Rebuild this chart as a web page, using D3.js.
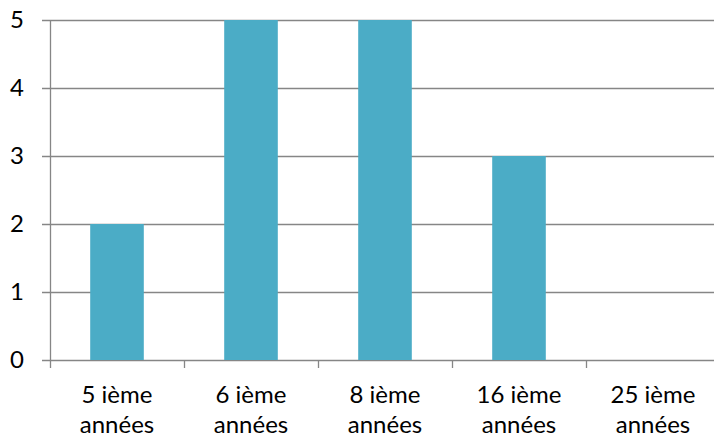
<!DOCTYPE html>
<html><head><meta charset="utf-8">
<script src="https://cdn.jsdelivr.net/npm/d3@7"></script>
<style>body{margin:0;background:#fff}svg{display:block}text{font-family:Lato,"Open Sans",sans-serif;fill:#000}</style>
</head><body><svg id="c" width="717" height="437"></svg>
<script>
const categories = ["5 ième années","6 ième années","8 ième années","16 ième années","25 ième années"];
const values = [2,5,5,3,0];
const yTicks = [0,1,2,3,4,5];

const svg = d3.select("#c");
const x0 = 50, x1 = 720, yTop = 20, yBot = 360;
const x = d3.scaleBand().domain(categories).range([x0, x1]).paddingInner(0.6).paddingOuter(0.3);
const xb = d3.scaleBand().domain(categories).range([x0, x1]);
const y = d3.scaleLinear().domain([0,5]).range([yBot, yTop]);
const grid = "#868686";

svg.append("g").selectAll("line").data(yTicks).join("line")
  .attr("x1", 42).attr("x2", 714)
  .attr("y1", d => Math.round(y(d))+0.5).attr("y2", d => Math.round(y(d))+0.5)
  .attr("stroke", grid).attr("stroke-width", 1.3);

svg.append("g").selectAll("rect").data(values).join("rect")
  .attr("x", (d,i) => x(categories[i])).attr("width", x.bandwidth())
  .attr("y", d => y(d)).attr("height", d => yBot - y(d))
  .attr("fill", "#4BACC6");

svg.append("line").attr("x1", x0+0.5).attr("x2", x0+0.5).attr("y1", yTop).attr("y2", yBot+8)
  .attr("stroke", grid).attr("stroke-width", 1.3);

svg.append("g").selectAll("line").data(categories.slice(1)).join("line")
  .attr("x1", d => Math.round(xb(d))+0.5).attr("x2", d => Math.round(xb(d))+0.5)
  .attr("y1", yBot).attr("y2", yBot+8).attr("stroke", grid).attr("stroke-width", 1.3);

svg.append("g").selectAll("text").data(yTicks).join("text")
  .attr("x", 24).attr("y", d => y(d)).attr("dy", "0.35em")
  .attr("text-anchor", "end").attr("font-size", 24).text(d => d);

const lab = svg.append("g").selectAll("text").data(categories).join("text")
  .attr("text-anchor", "middle").attr("font-size", 24)
  .attr("transform", d => `translate(${xb(d)+xb.bandwidth()/2},0)`);
lab.append("tspan").attr("x", 0).attr("y", 403).text(d => d.split(" ").slice(0,2).join(" "));
lab.append("tspan").attr("x", 0).attr("y", 433).text(d => d.split(" ").slice(2).join(" "));
</script></body></html>
